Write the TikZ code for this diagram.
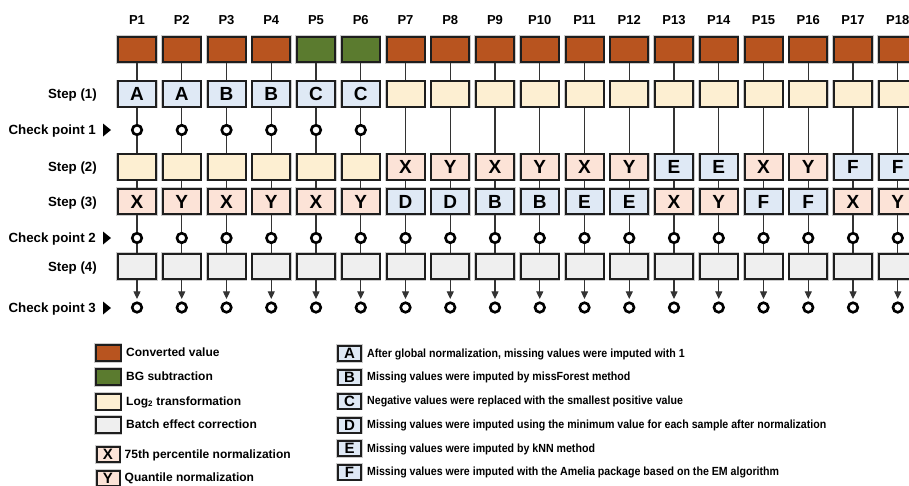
\documentclass[tikz,border=0pt]{standalone}
\usepackage{fontspec}
\setmainfont{Liberation Sans}
\usetikzlibrary{arrows.meta}

\definecolor{convC}{HTML}{B8541F}
\definecolor{bgC}{HTML}{5B7B2F}
\definecolor{logC}{HTML}{FDEFD2}
\definecolor{batchC}{HTML}{EFEFEF}
\definecolor{normC}{HTML}{FCE3D7}
\definecolor{impC}{HTML}{DFE9F5}
\definecolor{edgeC}{HTML}{1E1E1E}
\definecolor{wireC}{HTML}{333333}

\newcommand{\narrowtext}[1]{\scalebox{0.9}[1]{#1}}

\begin{document}
\begin{tikzpicture}[x=1pt,y=-1pt,
  boxed/.style={draw=edgeC, line width=2pt, inner sep=0pt,
    preaction={draw=black!20, line width=3.4pt}},
  cell/.style={boxed, minimum width=38pt, minimum height=25.5pt,
    font=\bfseries\fontsize{19}{19}\selectfont},
  keybox/.style={boxed, minimum width=25pt, minimum height=16pt},
  keylet/.style={boxed, minimum width=23pt, minimum height=15pt,
    font=\bfseries\fontsize{15}{15}\selectfont},
  capline/.style={text height=0.72em, text depth=0pt},
  keytext/.style={anchor=west, inner sep=0pt, capline, font=\bfseries\fontsize{12}{14}\selectfont},
  methtext/.style={keytext, font=\bfseries\fontsize{11.8}{14}\selectfont},
  rowlabel/.style={anchor=east, inner sep=0pt, capline, font=\bfseries\fontsize{13.3}{15}\selectfont},
  collabel/.style={inner sep=0pt, capline, font=\bfseries\fontsize{13}{15}\selectfont},
  ckpt/.style={circle, draw=black, line width=2.6pt, fill=white, minimum size=9.6pt, inner sep=0pt},
  wire/.style={draw=wireC, line width=1.1pt},
  marker/.style={fill=black}
]
\useasboundingbox (0,0) rectangle (909,485);

% row labels
\node[rowlabel] (lab1) at (97,95) {Step (1)};
\node[rowlabel] (labc1) at (96,130.5) {Check point 1};
\node[rowlabel] (lab2) at (97,168) {Step (2)};
\node[rowlabel] (lab3) at (97,202.5) {Step (3)};
\node[rowlabel] (labc2) at (96,238.5) {Check point 2};
\node[rowlabel] (lab4) at (97,268) {Step (4)};
\node[rowlabel] (labc3) at (96,308.5) {Check point 3};
\foreach \y in {130,238,308}
  \fill[marker] (103,\y-6.5) -- (111,\y) -- (103,\y+6.5) -- cycle;

% column headers and converted values
\foreach \i in {1,...,18} {
  \pgfmathsetmacro\x{137+(\i-1)*44.75}
  \node[collabel] (p\i) at (\x,21) {P\i};
  \node[cell, fill=convC] (r0-\i) at (\x,49.5) {};
}
\node[cell, fill=bgC] at (r0-5) {};
\node[cell, fill=bgC] at (r0-6) {};

% step (1)
\foreach \i/\t/\c in {1/A/impC,2/A/impC,3/B/impC,4/B/impC,5/C/impC,6/C/impC,
  7//logC,8//logC,9//logC,10//logC,11//logC,12//logC,13//logC,14//logC,
  15//logC,16//logC,17//logC,18//logC} {
  \pgfmathsetmacro\x{137+(\i-1)*44.75}
  \node[cell, fill=\c] (s1-\i) at (\x,94) {\t};
}

% step (2)
\foreach \i/\t/\c in {1//logC,2//logC,3//logC,4//logC,5//logC,6//logC,
  7/X/normC,8/Y/normC,9/X/normC,10/Y/normC,11/X/normC,12/Y/normC,
  13/E/impC,14/E/impC,15/X/normC,16/Y/normC,17/F/impC,18/F/impC} {
  \pgfmathsetmacro\x{137+(\i-1)*44.75}
  \node[cell, fill=\c] (s2-\i) at (\x,167) {\t};
}

% step (3)
\foreach \i/\t/\c in {1/X/normC,2/Y/normC,3/X/normC,4/Y/normC,5/X/normC,6/Y/normC,
  7/D/impC,8/D/impC,9/B/impC,10/B/impC,11/E/impC,12/E/impC,
  13/X/normC,14/Y/normC,15/F/impC,16/F/impC,17/X/normC,18/Y/normC} {
  \pgfmathsetmacro\x{137+(\i-1)*44.75}
  \node[cell, fill=\c] (s3-\i) at (\x,201.5) {\t};
}

% step (4) and check points
\foreach \i in {1,...,18} {
  \pgfmathsetmacro\x{137+(\i-1)*44.75}
  \node[cell, fill=batchC] (s4-\i) at (\x,266.5) {};
  \node[ckpt] (c2-\i) at (\x,238) {};
  \node[ckpt] (c3-\i) at (\x,307.5) {};
}
\foreach \i in {1,...,6} {
  \pgfmathsetmacro\x{137+(\i-1)*44.75}
  \node[ckpt] (c1-\i) at (\x,130) {};
}

% connectors
\foreach \i in {1,...,18} {
  \draw[wire] (r0-\i) -- (s1-\i);
  \draw[wire] (s2-\i) -- (s3-\i);
  \draw[wire] (s3-\i) -- (c2-\i);
  \draw[wire] (c2-\i) -- (s4-\i);
  \draw[wire, -{Triangle[length=7.5pt,width=7pt]}, shorten >=2.5pt] (s4-\i) -- (c3-\i);
}
\foreach \i in {1,...,6} {
  \draw[wire] (s1-\i) -- (c1-\i);
  \draw[wire] (c1-\i) -- (s2-\i);
}
\foreach \i in {7,...,18}
  \draw[wire] (s1-\i) -- (s2-\i);

% legend: processing steps
\node[keybox, fill=convC] (k1) at (108,353) {};
\node[keytext] (t1) at (126,353) {Converted value};
\node[keybox, fill=bgC] (k2) at (108,377) {};
\node[keytext] (t2) at (126,377) {BG subtraction};
\node[keybox, fill=logC] (k3) at (108,401.5) {};
\node[keytext] (t3) at (126,401.5) {Log\textsubscript{2} transformation};
\node[keybox, fill=batchC] (k4) at (108,425) {};
\node[keytext] (t4) at (126,425) {Batch effect correction};
\node[keylet, fill=normC] (kx) at (108,454.5) {X};
\node[keytext] (tx) at (124.5,454.5) {75th percentile normalization};
\node[keylet, fill=normC] (ky) at (108,478) {Y};
\node[keytext] (ty) at (124.5,478) {Quantile normalization};

% legend: imputation methods
\foreach \t/\y/\d in {A/353.5/{After global normalization, missing values were imputed with 1},
  B/377/{Missing values were imputed by missForest method},
  C/401/{Negative values were replaced with the smallest positive value},
  D/425/{Missing values were imputed using the minimum value for each sample after normalization},
  E/448.5/{Missing values were imputed by kNN method},
  F/472/{Missing values were imputed with the Amelia package based on the EM algorithm}} {
  \node[keylet, fill=impC] (m\t) at (349.5,\y) {\t};
  \node[methtext] (d\t) at (367,\y) {\narrowtext{\d}};
}
\end{tikzpicture}
\end{document}
